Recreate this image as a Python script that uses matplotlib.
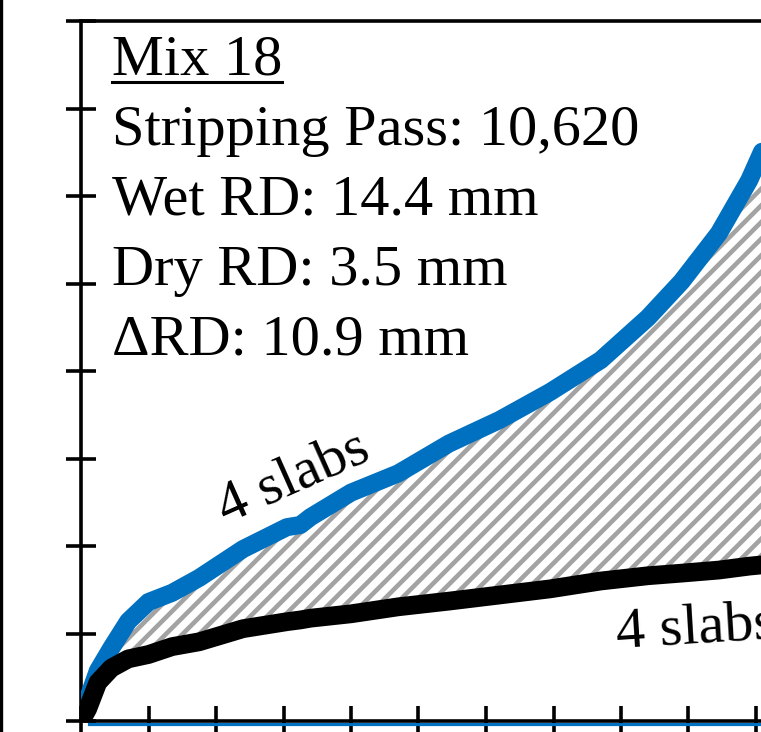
import matplotlib
matplotlib.use("Agg")
import matplotlib.pyplot as plt
from matplotlib.lines import Line2D
import numpy as np

plt.rcParams['font.family'] = ['Liberation Serif', 'DejaVu Serif']
plt.rcParams['hatch.linewidth'] = 3.3

# passes vs rut depth (mm)
passes = [0, 100, 250, 450, 700, 1000, 1350, 1750, 2400, 3050, 3250, 3400, 4000,
          4700, 5450, 6200, 6950, 7700, 8400, 8900, 9450, 9900, 10100, 10350, 10620]
wet_rd = [0, 0.5, 1.15, 1.67, 2.28, 2.72, 2.93, 3.27, 3.93, 4.43, 4.48, 4.66, 5.22,
          5.66, 6.34, 6.88, 7.52, 8.25, 9.22, 10.05, 11.15, 12.36, 13.05, 13.75, 14.4]
dry_rd = [0, 0.28, 0.88, 1.21, 1.42, 1.52, 1.70, 1.81, 2.11, 2.27, 2.31, 2.35, 2.45,
          2.61, 2.74, 2.88, 3.02, 3.20, 3.32, 3.38, 3.45, 3.54, 3.57, 3.60, 3.62]

info_lines = ["Stripping Pass: 10,620", "Wet RD: 14.4 mm", "Dry RD: 3.5 mm", "\u0394RD: 10.9 mm"]
title = "Mix 18"
blue = "#0070C0"

W, H = 761, 732
fig = plt.figure(figsize=(W / 100, H / 100), dpi=100)
# axes runs off the right side of the crop
ax = fig.add_axes([81 / W, 11 / H, 1350 / W, 700 / H])

ax.fill_between(passes, dry_rd, wet_rd, facecolor='none', edgecolor='#A3A3A3',
                hatch='//', linewidth=0, zorder=1)
ax.plot(passes, wet_rd, color=blue, lw=13, solid_capstyle='round', solid_joinstyle='round', zorder=3)
ax.plot(passes, dry_rd, color='black', lw=13.5, solid_capstyle='round', solid_joinstyle='round', zorder=4)
ax.axhline(-0.075, xmin=0.006, color=blue, lw=2.3, clip_on=False, zorder=2)

ax.set_xlim(0, 20000)
ax.set_ylim(0, 16)
ax.set_xticks(np.arange(0, 20001, 1000))
ax.set_yticks(np.arange(0, 17, 2))
ax.tick_params(direction='inout', length=21.5, width=2.6, labelbottom=False, labelleft=False)
for s in ['left', 'bottom', 'top']:
    ax.spines[s].set_linewidth(2.6)
ax.spines['right'].set_visible(False)

fs = 42
t = ax.text(459, 14.77, title, fontsize=fs, ha='left', va='baseline')
for i, line in enumerate(info_lines):
    ax.text(459, 13.17 - 1.6 * i, line, fontsize=fs, ha='left', va='baseline')

ax.text(2140, 4.52, "4 slabs", fontsize=fs, rotation=24, rotation_mode='anchor',
        ha='left', va='baseline')
ax.text(7941, 1.69, "4 slabs", fontsize=fs, rotation=3.5, rotation_mode='anchor',
        ha='left', va='baseline')

# underline under the mix title
fig.canvas.draw()
bb = t.get_window_extent()
y_ul = (H - 82) / H
fig.add_artist(Line2D([bb.x0 / W, bb.x1 / W], [y_ul, y_ul], transform=fig.transFigure,
                      color='black', lw=2.2))

# neighbouring panel edge on the far left
fig.add_artist(Line2D([1.5 / W, 1.5 / W], [0, 1], transform=fig.transFigure,
                      color='black', lw=2.4))

fig.savefig("out.png", dpi=100)
